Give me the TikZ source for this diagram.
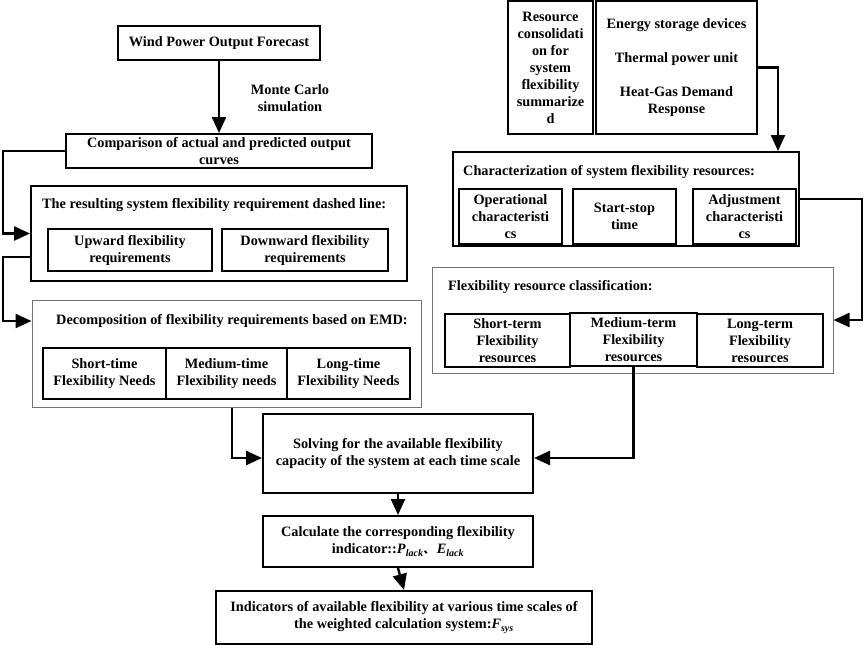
\documentclass[tikz,border=0pt]{standalone}
\usepackage{fontspec}
\setmainfont{Liberation Serif}
\newfontfamily\cjk{Noto Sans CJK SC}
\usetikzlibrary{arrows.meta,calc}
\begin{document}
\begin{tikzpicture}[x=1pt,y=-1pt,
  every node/.style={font=\fontsize{14.3}{17}\selectfont\bfseries, align=center, inner sep=1pt},
  box/.style={draw=black, line width=2pt},
  gbox/.style={draw=black!55, line width=1pt},
  sub/.style={draw=black, line width=1.8pt},
  ttl/.style={anchor=west, inner sep=0pt},
  arr/.style={line width=2.4pt, -{Triangle[length=16pt,width=14pt]}},
  ln/.style={line width=2.4pt}]
\useasboundingbox (0,0) rectangle (865,645);
\coordinate (xl) at (3,0);
\coordinate (xr) at (862,0);

% left column
\node[box, minimum width=202pt, minimum height=34pt] (wind) at (219,43) {Wind Power Output Forecast};
\node (mc) at (290,98) {Monte Carlo\\simulation};
\node[box, minimum width=306pt, minimum height=34pt] (comp) at (219,151) {Comparison of actual and predicted output\\curves};

\node[box, minimum width=376pt, minimum height=95pt] (result) at (219,233.5) {};
\node[ttl] (rtitle) at (42,205) {The resulting system flexibility requirement dashed line:};
\node[sub, minimum width=164pt, minimum height=42pt] (up) at (130,250) {Upward flexibility\\requirements};
\node[sub, minimum width=166pt, minimum height=42pt] (down) at (305,250) {Downward flexibility\\requirements};

\node[gbox, minimum width=389pt, minimum height=107pt] (decomp) at (226.5,353.5) {};
\node[ttl] (dtitle) at (56,321) {Decomposition of flexibility requirements based on EMD:};
\node[sub, minimum width=123pt, minimum height=51pt] (sn) at (104.5,373.5) {Short-time\\Flexibility Needs};
\node[sub, minimum width=121pt, minimum height=51pt] (mn) at (226.5,373.5) {Medium-time\\Flexibility needs};
\node[sub, minimum width=123pt, minimum height=51pt] (lnd) at (348.5,373.5) {Long-time\\Flexibility Needs};

% right column
\node[box, minimum width=85pt, minimum height=133pt] (res) at (550.5,67.5) {Resource\\consolidati\\on for\\system\\flexibility\\summarize\\d};
\node[box, minimum width=161pt, minimum height=133pt] (energy) at (676.5,67.5) {Energy storage devices\\[17pt]Thermal power unit\\[17pt]Heat-Gas Demand\\Response};

\node[box, minimum width=346pt, minimum height=94pt] (char) at (626,199) {};
\node[ttl] (ctitle) at (463,172) {Characterization of system flexibility resources:};
\node[sub, minimum width=103pt, minimum height=55pt] (op) at (510.5,216.5) {Operational\\characteristi\\cs};
\node[sub, minimum width=103pt, minimum height=55pt] (ss) at (624.5,216.5) {Start-stop\\time};
\node[sub, minimum width=103pt, minimum height=55pt] (adj) at (744.5,216.5) {Adjustment\\characteristi\\cs};

\node[gbox, minimum width=401pt, minimum height=106pt] (class) at (632.5,320) {};
\node[ttl] (cltitle) at (448,287) {Flexibility resource classification:};
\node[sub, minimum width=125pt, minimum height=53pt] (st) at (507.5,340.5) {Short-term\\Flexibility\\resources};
\node[sub, minimum width=127pt, minimum height=53pt] (mt) at (633.5,339.5) {Medium-term\\Flexibility\\resources};
\node[sub, minimum width=126pt, minimum height=53pt] (lt) at (760,340.5) {Long-term\\Flexibility\\resources};

% bottom
\node[box, minimum width=270pt, minimum height=79pt] (solve) at (398,453.5) {Solving for the available flexibility\\capacity of the system at each time scale};
\node[box, minimum width=270pt, minimum height=51pt] (calc) at (398,541.5) {Calculate the corresponding flexibility\\indicator::\textit{P}\textsubscript{\textit{lack}}{\cjk\fontsize{11}{13}\selectfont 、}\,\textit{E}\textsubscript{\textit{lack}}};
\node[box, minimum width=376pt, minimum height=53pt] (ind) at (404,617.5) {Indicators of available flexibility at various time scales of\\the weighted calculation system:\textit{F}\textsubscript{\textit{sys}}};

% connectors
\draw[arr] (wind) -- (comp);
\draw[arr] (comp.west) -- (comp.west -| xl) -- (xl |- result.west) -- (result.west);
\draw[arr] ([yshift=-23.5pt]result.west) -- ([yshift=-23.5pt]result.west -| xl) -- ([yshift=32.5pt]decomp.west -| xl) -- ([yshift=32.5pt]decomp.west);
\draw[arr] ([xshift=5.5pt]decomp.south) |- ([yshift=-4.5pt]solve.west);
\draw[arr] (energy.east) -| ([xshift=152pt]char.north);
\draw[arr] (char.east) -- (char.east -| xr) |- (class.east);
\draw[arr] (mt.south) |- ([yshift=-4.5pt]solve.east);
\draw[arr] (solve) -- (calc);
\draw[arr] (calc.south) -- (ind.north);
\end{tikzpicture}
\end{document}
